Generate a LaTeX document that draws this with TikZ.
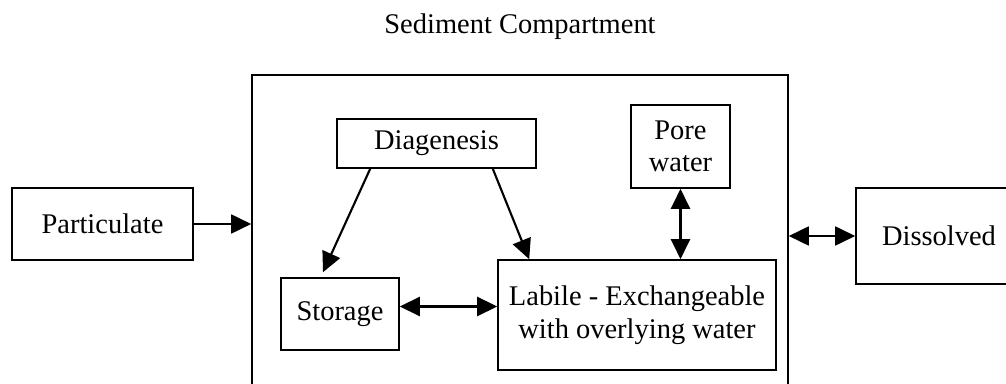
\documentclass[tikz,border=0pt]{standalone}
\usepackage{fontspec}
\setmainfont{Liberation Serif}
\usepackage{tikz}
\usetikzlibrary{arrows, arrows.meta}

\begin{document}
\begin{tikzpicture}[>={Triangle[length=0.4cm, width=0.38cm]}, line width=1pt,
  font=\fontsize{16.2}{18.5}\selectfont]
\useasboundingbox (0,0) rectangle (20.12,7.68);

\begin{scope}[every node/.style={draw, rectangle, inner sep=0pt, align=center, line width=0.9pt}]
  % outer compartment, open at the bottom
  \draw node (sed) at (10.40,2.94) [minimum width=10.72cm, minimum height=6.48cm] {};
  \draw node (part) at (2.05,3.20) [minimum width=3.62cm, minimum height=1.44cm] {Particulate};
  \draw node (diss) at (18.78,2.96) [minimum width=3.32cm, minimum height=1.92cm] {Dissolved};

  \draw node (diag) at (8.73,4.81) [minimum width=3.98cm, minimum height=0.98cm] {Diagenesis};
  \draw node (pore) at (13.61,4.75) [minimum width=1.98cm, minimum height=1.66cm] {Pore\\water};
  \draw node (stor) at (6.80,1.40) [minimum width=2.36cm, minimum height=1.44cm] {Storage};
  \draw node (lab) at (12.74,1.38) [minimum width=5.56cm, minimum height=2.20cm] {Labile - Exchangeable\\with overlying water};
\end{scope}

\node (title) at (10.40,7.14) {Sediment Compartment};

\coordinate (sl) at ([yshift=0.15cm]stor.east);

\draw[->] (part.east) -- (part.east -| sed.west);
\draw[<->] (diss.west -| sed.east) -- (diss.west);
\draw[->, line width=1.2pt] ([xshift=0.68cm]diag.south west) -- ([xshift=-0.34cm, yshift=0.1cm]stor.north);
\draw[->, line width=1.2pt] ([xshift=-0.88cm]diag.south east) -- ([xshift=0.64cm]lab.north west);
\draw[<->, line width=1.4pt] (sl) -- (sl -| lab.west);
\draw[<->, line width=1.2pt] (pore.south) -- (pore.south |- lab.north);

\end{tikzpicture}
\end{document}
